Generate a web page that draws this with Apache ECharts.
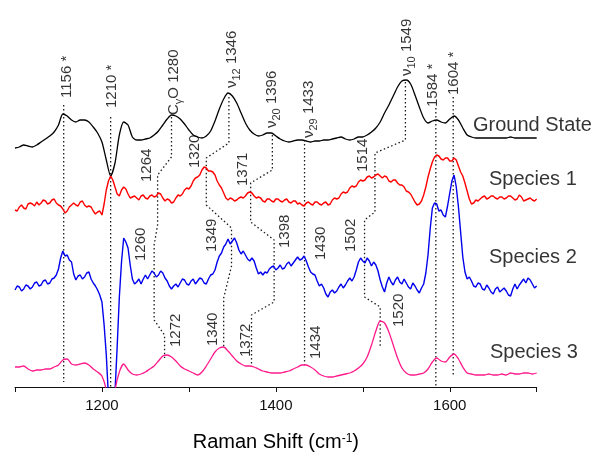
<!DOCTYPE html>
<html>
<head>
<meta charset="utf-8">
<script src="https://cdn.jsdelivr.net/npm/echarts/dist/echarts.min.js"></script>
<style>
  html, body { margin: 0; padding: 0; background: #fff; }
  #chart { width: 597px; height: 453px; }
</style>
</head>
<body>
<div id="chart"></div>
<script>
// Raman shift sampling (cm-1)
const shift = [
  1100,1105,1110,1115,1120,1125,1130,1135,1140,1145,
  1150,1155,1160,1165,1170,1175,1180,1185,1190,1195,
  1200,1205,1210,1215,1220,1225,1230,1235,1240,1245,
  1250,1255,1260,1265,1270,1275,1280,1285,1290,1295,
  1300,1305,1310,1315,1320,1325,1330,1335,1340,1345,
  1350,1355,1360,1365,1370,1375,1380,1385,1390,1395,
  1400,1405,1410,1415,1420,1425,1430,1435,1440,1445,
  1450,1455,1460,1465,1470,1475,1480,1485,1490,1495,
  1500,1505,1510,1515,1520,1525,1530,1535,1540,1545,
  1550,1555,1560,1565,1570,1575,1580,1585,1590,1595,
  1600,1605,1610,1615,1620,1625,1630,1635,1640,1645,
  1650,1655,1660,1665,1670,1675,1680,1685,1690,1695,
  1700
];

// Stacked spectra (arbitrary intensity units, offsets included)
const groundState = [
  239,240,242,241,240,242,245,248,251,255,
  262,273,271,267,265,267,267,265,260,254,
  245,227,211,224,252,265,262,250,247,247,
  248,249,252,256,262,268,272,271,268,263,
  257,252,250,249,251,256,266,278,288,294,
  291,284,274,264,257,253,251,252,254,254,
  251,248,246,245,246,247,247,246,245,246,
  246,247,247,248,249,250,248,247,248,250,
  250,252,255,259,265,274,282,291,300,306,
  307,303,292,280,269,264,266,267,265,264,
  268,271,267,259,252,250,249,249,249,249,
  249,249,249,249,250,249,249,249,249,249,
  249
];
const species1 = [
  177,180,179,183,183,185,184,186,184,188,
  182,178,176,182,182,185,182,181,176,175,
  172,197,211,200,191,200,193,190,189,191,
  189,191,190,194,189,188,184,189,191,197,
  198,206,210,217,219,216,212,202,194,187,
  188,187,190,191,195,191,190,186,188,186,
  188,186,187,185,186,183,182,184,183,185,
  183,184,182,187,188,193,194,199,200,205,
  206,210,209,212,211,211,206,207,204,202,
  196,193,185,183,192,210,225,232,228,229,
  226,229,221,211,196,183,187,188,191,189,
  191,188,190,189,191,187,192,186,188,187,
  188
];
// Species 1 readings taken half-way between the shift samples (1102.5 ... 1697.5)
const species1Half = [
  176,182,178,184,181,182,187,183,187,184,
  181,174,180,184,181,186,180,180,173,176,
  183,206,207,193,197,198,189,191,187,192,
  188,192,191,193,186,187,185,192,193,199,
  201,209,212,220,216,215,206,199,189,189,
  186,189,189,194,194,189,189,185,188,185,
  188,185,188,184,186,184,181,185,182,185,
  182,185,183,189,189,195,195,201,201,207,
  207,211,210,213,209,210,205,207,202,200,
  195,189,182,186,200,218,230,231,227,229,
  226,227,215,204,188,184,186,190,188,191,
  189,190,188,191,189,188,190,187,189,186
];
const species2 = [
  97,100,98,101,100,105,102,107,104,109,
  118,136,132,125,107,112,110,115,104,97,
  85,32,-60,-5,90,149,139,108,105,103,
  112,112,114,112,114,106,98,103,104,107,
  102,108,106,108,103,112,117,131,140,148,
  146,144,133,132,126,126,113,112,114,120,
  117,122,119,125,124,130,128,126,115,112,
  101,99,90,97,96,103,102,109,110,125,
  126,129,121,122,107,95,110,102,110,103,
  104,98,101,94,103,132,179,183,177,170,
  194,212,180,130,108,106,100,103,97,99,
  93,100,97,96,91,103,102,108,109,103,
  101
];
// Species 2 readings taken half-way between the shift samples (1102.5 ... 1697.5)
const species2Half = [
  101,96,102,98,104,101,106,103,108,112,
  129,131,127,113,111,108,114,108,101,92,
  62,-10,-40,40,125,145,122,103,108,108,
  108,116,110,116,109,101,101,100,108,103,
  106,103,109,104,108,113,125,134,143,143,
  149,137,136,128,129,119,115,115,118,121,
  119,118,123,121,127,127,131,120,113,106,
  103,93,95,94,100,99,106,106,117,129,
  124,126,125,116,100,104,105,107,105,108,
  100,104,97,99,114,158,184,176,172,181,
  206,200,155,115,110,101,104,98,102,95,
  98,95,99,92,98,98,105,104,107,99
];
const species3 = [
  20,20,21,18,16,17,17,18,18,20,
  22,27,28,23,22,23,24,22,18,15,
  11,-4,-50,-4,15,23,17,13,12,13,
  15,18,21,26,31,32,30,26,21,18,
  16,14,12,15,21,28,35,39,40,36,
  31,26,23,21,21,20,18,16,15,14,
  14,14,15,16,18,20,22,22,20,17,
  13,11,10,10,11,12,13,14,16,19,
  23,30,42,56,66,64,55,42,29,19,
  14,12,12,13,14,18,25,29,26,25,
  30,33,28,20,14,13,12,12,12,13,
  12,12,13,12,14,13,13,14,14,13,
  14
];

const spectrumNames = ['Ground State', 'Species 1', 'Species 2', 'Species 3'];
const tickLabels = [1200, 1400, 1600];

// Band assignments followed across the four spectra (shift, intensity level)
const bandPaths = [
  [[1156, 282], [1156, 5]],
  [[1210, 270], [1210, 0]],
  [[1280, 270], [1280, 230], [1264, 212], [1264, 162], [1260, 142], [1260, 67], [1272, 52], [1272, 29]],
  [[1346, 290], [1346, 244], [1320, 229], [1320, 182], [1349, 159], [1349, 121], [1340, 89], [1340, 40]],
  [[1396, 252], [1396, 217], [1371, 204], [1371, 165], [1398, 147], [1398, 85], [1372, 72], [1372, 20]],
  [[1433, 247], [1433, 22]],
  [[1549, 305], [1549, 247], [1514, 234], [1514, 175], [1502, 167], [1502, 90], [1520, 80], [1520, 40]],
  [[1584, 279], [1584, 0]],
  [[1604, 290], [1604, 12]]
];

// Band tags; "_{..}" marks a subscript
const bandTags = [
  '1156 *', '1210 *', 'C_{γ}O 1280', 'ν_{12} 1346', 'ν_{20} 1396', 'ν_{29} 1433',
  'ν_{10} 1549', '1584 *', '1604 *',
  '1264', '1320', '1371', '1514',
  '1260', '1349', '1398', '1430', '1502',
  '1272', '1340', '1372', '1434', '1520'
];

// Where each tag sits: [shift, level of the tag's lower end]
const tagSpots = [
  [1161.0, 289], [1213.3, 279], [1284.6, 272], [1351.3, 299], [1396.7, 259], [1439.3, 249],
  [1552.6, 311], [1582.5, 280], [1606.6, 292],
  [1253.0, 205], [1308.2, 219], [1363.4, 201], [1501.4, 215],
  [1246.1, 126], [1327.7, 135], [1411.7, 139], [1453.1, 127], [1487.6, 135],
  [1286.3, 40], [1328.9, 41], [1366.8, 30], [1447.3, 28], [1542.8, 60]
];

// Name placement beside each trace: [shift, level]
const nameSpots = [[1626.7, 262], [1645.1, 208], [1645.1, 130], [1646.3, 35]];

const FONT = '"Liberation Sans", Arial, Helvetica, sans-serif';
const colors = ['#000000', '#ff0000', '#0000ee', '#ff1a8c'];

function richTag(s) {
  const parts = s.split(/(_\{[^}]*\})/).filter(p => p.length);
  return parts.map(p => {
    const m = p.match(/^_\{([^}]*)\}$/);
    return m ? '{s|' + m[1] + '}' : '{m|' + p + '}';
  }).join('');
}

// Pair the shift samples with readings; half-step readings slot in between
function toPoints(vals, half) {
  const pts = [];
  shift.forEach((x, i) => {
    pts.push([x, vals[i]]);
    if (half && i < half.length) pts.push([(x + shift[i + 1]) / 2, half[i]]);
  });
  return pts;
}

const spectra = [
  toPoints(groundState),
  toPoints(species1, species1Half),
  toPoints(species2, species2Half),
  toPoints(species3)
];
const series = [];

bandPaths.forEach(path => {
  series.push({
    type: 'line',
    data: path,
    showSymbol: false,
    silent: true,
    z: 1,
    lineStyle: { color: '#1a1a1a', width: 1.3, type: [1.5, 2.5] }
  });
});

spectra.forEach((pts, k) => {
  series.push({
    name: spectrumNames[k],
    type: 'line',
    data: pts,
    showSymbol: false,
    silent: true,
    smooth: (k === 0 || k === 3) ? 0.25 : false,
    z: 3,
    lineStyle: { color: colors[k], width: (k === 1 || k === 2) ? 1.4 : 1.3 }
  });
});

series.push({
  type: 'scatter',
  symbolSize: 1,
  silent: true,
  z: 5,
  itemStyle: { color: 'transparent' },
  data: tagSpots.map((p, i) => ({ value: p, label: { formatter: richTag(bandTags[i]) } })),
  label: {
    show: true,
    position: 'inside',
    rotate: 90,
    align: 'left',
    verticalAlign: 'middle',
    rich: {
      m: { fontFamily: FONT, fontSize: 15, color: '#000', lineHeight: 18, verticalAlign: 'top' },
      s: { fontFamily: FONT, fontSize: 11, color: '#000', lineHeight: 11, verticalAlign: 'top', padding: [7, 0, 0, 0] }
    }
  }
});

series.push({
  type: 'scatter',
  symbolSize: 1,
  silent: true,
  z: 5,
  itemStyle: { color: 'transparent' },
  data: nameSpots.map((p, i) => ({ value: p, label: { formatter: spectrumNames[i] } })),
  label: {
    show: true,
    position: 'inside',
    align: 'left',
    verticalAlign: 'middle',
    fontFamily: FONT,
    fontSize: 20,
    color: '#000'
  }
});

const option = {
  animation: false,
  backgroundColor: '#ffffff',
  grid: { left: 15, right: 60.3, top: 0, bottom: 66, containLabel: false, outerBoundsMode: 'none' },
  xAxis: {
    type: 'value',
    min: 1100,
    max: 1700,
    interval: 100,
    axisLine: { onZero: false, lineStyle: { color: '#111', width: 1 } },
    axisTick: { length: 5, lineStyle: { color: '#111', width: 1 } },
    axisLabel: {
      formatter: v => (tickLabels.includes(v) ? String(v) : ''),
      color: '#111', fontFamily: FONT, fontSize: 15, margin: 11
    },
    splitLine: { show: false },
    name: '{t|Raman Shift (cm}{p|-1}{t|)}',
    nameLocation: 'middle',
    nameGap: 45,
    nameTextStyle: {
      rich: {
        t: { fontFamily: FONT, fontSize: 20, color: '#000', lineHeight: 24, verticalAlign: 'top' },
        p: { fontFamily: FONT, fontSize: 12, color: '#000', lineHeight: 12, verticalAlign: 'top', padding: [1, 0, 0, 0] }
      }
    }
  },
  yAxis: { type: 'value', min: 0, max: 387, show: false },
  series: series
};

const chart = echarts.init(document.getElementById('chart'));
chart.setOption(option);
</script>
</body>
</html>
